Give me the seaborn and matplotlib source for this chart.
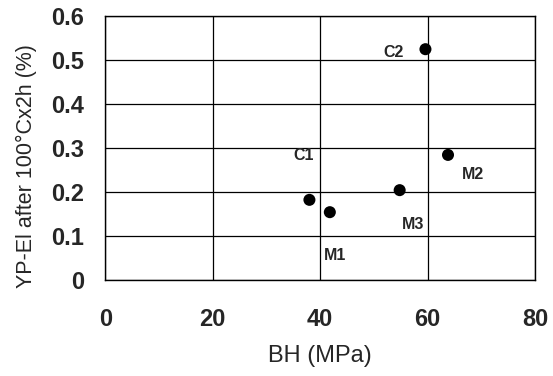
import pandas as pd
import matplotlib
matplotlib.use('Agg')
import matplotlib.pyplot as plt
import seaborn as sns

# data
names = ['C1', 'C2', 'M1', 'M2', 'M3']
bh = [38.0, 59.6, 41.8, 63.8, 54.8]
ypel = [0.182, 0.524, 0.154, 0.284, 0.204]
x_ticks = [0, 20, 40, 60, 80]
y_ticks = [0, 0.1, 0.2, 0.3, 0.4, 0.5, 0.6]
y_tick_labels = ['0', '0.1', '0.2', '0.3', '0.4', '0.5', '0.6']

# label offsets (pixels) from each point
offsets = {'C1': (-6, 44), 'C2': (-32, -3), 'M1': (5, -43), 'M2': (25, -20), 'M3': (13, -34)}

df = pd.DataFrame({'name': names, 'BH': bh, 'YPEl': ypel})

sns.set_style('white')
plt.rcParams['font.family'] = ['Liberation Sans', 'DejaVu Sans']

fig = plt.figure(figsize=(5.53, 3.76), dpi=100)
ax = fig.add_axes([0.1904, 0.2553, 0.7771, 0.7029])

sns.scatterplot(data=df, x='BH', y='YPEl', color='black', s=75, edgecolor='none', ax=ax, zorder=3)

for n, x, y in zip(names, bh, ypel):
    dx, dy = offsets[n]
    ax.annotate(n, (x, y), xytext=(dx, dy), textcoords='offset pixels',
                ha='center', va='center', fontsize=11.5, fontweight='bold')

ax.set_xlim(0, 80)
ax.set_ylim(0, 0.6)
ax.set_xticks(x_ticks)
ax.set_xticklabels([str(t) for t in x_ticks], fontsize=17, fontweight='bold')
ax.set_yticks(y_ticks)
ax.set_yticklabels(y_tick_labels, fontsize=17, fontweight='bold')
ax.tick_params(axis='both', length=0)
ax.tick_params(axis='x', pad=20)
ax.tick_params(axis='y', pad=15)
ax.grid(True, color='black', linewidth=0.9)
ax.set_axisbelow(True)
for s in ax.spines.values():
    s.set_color('black')
    s.set_linewidth(1.0)

ax.set_xlabel('BH (MPa)', fontsize=17, labelpad=10)
ax.set_ylabel('YP-El after 100°Cx2h (%)', fontsize=15.5)
ax.yaxis.set_label_coords(-0.16, 0.43)

fig.savefig('out.png', dpi=100)
